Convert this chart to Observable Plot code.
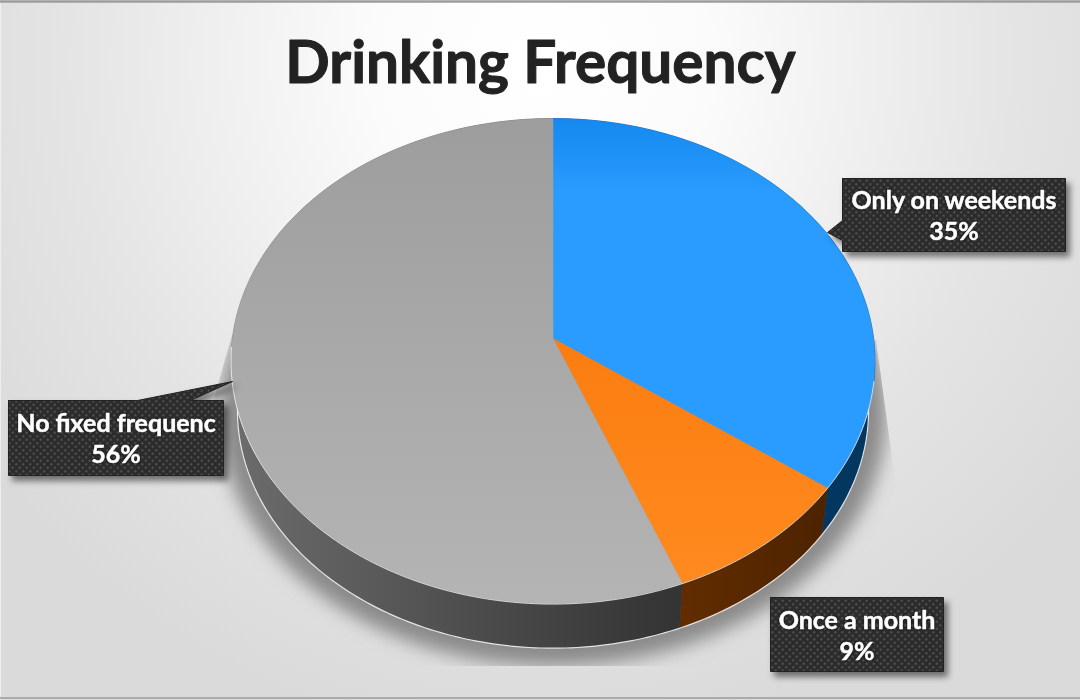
<!DOCTYPE html>
<html><head><meta charset="utf-8">
<script src="https://cdn.jsdelivr.net/npm/d3@7"></script>
<script src="https://cdn.jsdelivr.net/npm/@observablehq/plot@0.6"></script>
<style>html,body{margin:0;padding:0;background:#fff;overflow:hidden}svg{display:block}</style>
</head><body><div id="chart"></div>
<script>
const chartTitle = "Drinking Frequency";
const categories = ["Only on weekends", "Once a month", "No fixed frequenc"];
const shares = [35, 9, 56];

// Layout and styling, kept apart from the data
const W = 1080, H = 700;
const faceFills = ["url(#faceBlue)", "url(#faceOrange)", "url(#faceGray)"];
const wallFills = ["#04375f", "url(#wallOrange)", "url(#wallGray)"];
const boxes = [
  {x1: 842, y1: 178, x2: 1065, y2: 251, tail: [[842, 220], [827, 232], [842, 240]]},
  {x1: 770, y1: 597, x2: 943, y2: 671, tail: []},
  {x1: 8, y1: 400, x2: 223, y2: 475, tail: [[137, 400], [232, 381], [190, 400]]}
];
const font = "Lato, Carlito, sans-serif";

// Perspective of the tilted disc
const cx = 552.5, cy = 338, a = 320.6, b = 240.4, k = 0.0928;
function rim(deg, s = 1, dy = 0) {
  const t = deg * Math.PI / 180, u = Math.sin(t), v = Math.cos(t), w = 1 + k * v;
  return [cx + s * a * u / w, cy + dy - s * b * v / w];
}
function arc(from, to, s, dy) {
  const n = Math.max(2, Math.ceil(Math.abs(to - from))), out = [];
  for (let i = 0; i <= n; i++) out.push(rim(from + (to - from) * i / n, s, dy));
  return out;
}
const total = d3.sum(shares);
const spans = Array.from(d3.cumsum(shares), (c, i) => [(c - shares[i]) * 360 / total, c * 360 / total]);
const depth = {s: 0.98, dy: 50};

const X = d => d[0], Y = d => d[1];
const poly = (pts, o) => Plot.line([...pts, pts[0]], {x: X, y: Y, curve: "linear", strokeLinejoin: "round", ...o});

const shadowDisc = arc(0, 360, 1.035, 53);
const walls = spans.map(([f, t], i) => poly([...arc(f, t, depth.s, depth.dy), ...arc(t, f, 1, 0)],
  {fill: wallFills[i], stroke: wallFills[i], strokeWidth: 0.5}));
const wallEdge = Plot.line(arc(70, 290, depth.s, depth.dy), {x: X, y: Y, stroke: "#f4f4f4", strokeWidth: 1.2, strokeOpacity: 0.9});
const faces = spans.map(([f, t], i) => poly([[cx, cy], ...arc(f, t, 1, 0)],
  {fill: faceFills[i], stroke: faceFills[i], strokeWidth: 0.5}));
const faceEdge = Plot.line(arc(100, 268, 1, 0.6), {x: X, y: Y, stroke: "#ffffff", strokeWidth: 1, strokeOpacity: 0.75});

const callouts = boxes.map(r => poly([
    [r.x1, r.y1],
    ...(r.tail.length && r.tail[0][1] === r.y1 ? r.tail : []),
    [r.x2, r.y1], [r.x2, r.y2], [r.x1, r.y2],
    ...(r.tail.length && r.tail[0][0] === r.x1 ? [...r.tail].reverse() : [])
  ], {fill: "url(#dots)", stroke: "#222", strokeWidth: 1,
      imageFilter: "drop-shadow(4px 5px 3px rgba(0,0,0,.5))"}));
const labelRows = categories.map((name, i) => ({
  text: `${name}\n${shares[i]}%`,
  x: (boxes[i].x1 + boxes[i].x2) / 2,
  y: (boxes[i].y1 + boxes[i].y2) / 2
}));

const svg = Plot.plot({
  width: W, height: H, margin: 0,
  style: {background: "#fff"},
  x: {domain: [0, W], range: [0, W], axis: null},
  y: {domain: [0, H], range: [0, H], axis: null},
  marks: [
    Plot.frame({fill: "url(#bg)", stroke: "none"}),
    Plot.ruleY([1], {stroke: "#9c9c9c", strokeWidth: 2.5}),
    Plot.ruleY([697.5], {stroke: "#ababab", strokeWidth: 2}),
    poly(shadowDisc, {fill: "#8a8a8a", stroke: "none"}),
    ...walls,
    wallEdge,
    ...faces,
    faceEdge,
    ...callouts,
    Plot.text(labelRows, {x: "x", y: "y", text: "text", fill: "#fff", stroke: "#fff", strokeWidth: 0.5,
      fontFamily: font, fontWeight: 700, fontSize: 25, lineHeight: 31 / 25, textAnchor: "middle",
      imageFilter: "drop-shadow(0 0 1px rgba(0,0,0,.8))"}),
    Plot.text([chartTitle], {x: () => 540, y: () => 64, text: d => d, fill: "#222", stroke: "#222", strokeWidth: 1,
      fontFamily: font, fontWeight: 700, fontSize: 58.5, textAnchor: "middle"})
  ]
});

svg.insertAdjacentHTML("afterbegin", `<defs>
  <radialGradient id="bg" gradientUnits="userSpaceOnUse" cx="540" cy="60" r="680">
    <stop offset="0" stop-color="#ffffff"/><stop offset=".25" stop-color="#fbfbfb"/><stop offset=".7" stop-color="#e4e4e4"/><stop offset="1" stop-color="#dadada"/>
  </radialGradient>
  <linearGradient id="faceBlue" gradientUnits="userSpaceOnUse" x1="0" y1="118" x2="0" y2="300"><stop offset="0" stop-color="#1489ee"/><stop offset=".4" stop-color="#2a9bff"/></linearGradient>
  <linearGradient id="faceOrange" gradientUnits="userSpaceOnUse" x1="0" y1="340" x2="0" y2="585"><stop offset="0" stop-color="#fb7d10"/><stop offset="1" stop-color="#ff8a1f"/></linearGradient>
  <linearGradient id="faceGray" gradientUnits="userSpaceOnUse" x1="0" y1="118" x2="0" y2="603"><stop offset="0" stop-color="#9d9d9d"/><stop offset=".5" stop-color="#a9a9a9"/><stop offset="1" stop-color="#b4b4b4"/></linearGradient>
  <linearGradient id="wallGray" gradientUnits="userSpaceOnUse" x1="232" y1="0" x2="682" y2="0"><stop offset="0" stop-color="#6c6c6c"/><stop offset=".55" stop-color="#4c4c4c"/><stop offset="1" stop-color="#333"/></linearGradient>
  <linearGradient id="wallOrange" gradientUnits="userSpaceOnUse" x1="680" y1="0" x2="828" y2="0"><stop offset="0" stop-color="#622c00"/><stop offset="1" stop-color="#4c2300"/></linearGradient>
  <pattern id="dots" patternUnits="userSpaceOnUse" width="7" height="7">
    <rect width="7" height="7" fill="#2b2b2b"/>
    <circle cx="1.75" cy="1.75" r="1" fill="#666"/><circle cx="5.25" cy="5.25" r="1" fill="#666"/>
  </pattern>
  <filter id="soft" filterUnits="userSpaceOnUse" x="150" y="50" width="820" height="680"><feGaussianBlur stdDeviation="9"/></filter>
  <clipPath id="shadowClip"><polygon points="0,480 205,430 232,335 876,340 895,480 895,666 0,666"/></clipPath>
</defs>`);
const sh = svg.querySelector('g[aria-label="line"]');
if (sh) {
  const wrap = document.createElementNS("http://www.w3.org/2000/svg", "g");
  wrap.setAttribute("clip-path", "url(#shadowClip)");
  sh.parentNode.insertBefore(wrap, sh);
  wrap.appendChild(sh);
  sh.setAttribute("filter", "url(#soft)");
}
document.getElementById("chart").appendChild(svg);
</script></body></html>
